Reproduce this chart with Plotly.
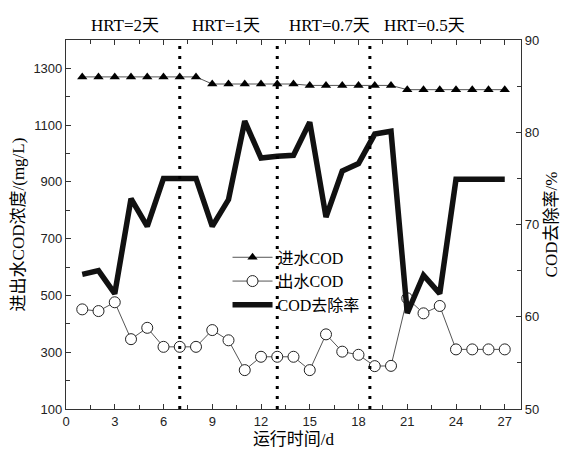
import plotly.graph_objects as go

days = list(range(1, 28))
influent_cod = [1270, 1270, 1270, 1270, 1270, 1270, 1270, 1270,
                1245, 1245, 1245, 1245, 1245, 1245,
                1240, 1240, 1240, 1240, 1240, 1240,
                1225, 1225, 1225, 1225, 1225, 1225, 1225]
effluent_cod = [451, 445, 476, 346, 386, 319, 319, 319, 378, 342, 237, 284, 284, 284,
                237, 363, 302, 291, 251, 252, 490, 437, 463, 310, 310, 310, 310]
removal_rate = [64.6, 65.0, 62.5, 72.8, 69.8, 75.0, 75.0, 75.0, 69.8, 72.7, 81.2, 77.2, 77.4, 77.5,
                81.1, 70.8, 75.8, 76.6, 79.8, 80.1, 60.4, 64.5, 62.5, 74.9, 74.9, 74.9, 74.9]

hrt_boundaries = [7, 13, 18.7]
hrt_labels = ["HRT=2天", "HRT=1天", "HRT=0.7天", "HRT=0.5天"]
hrt_label_x = [3.65, 9.85, 16.2, 22.05]

serif = "Liberation Serif, Noto Sans CJK SC, serif"
sans = "Liberation Sans, Arial, sans-serif"

fig = go.Figure()
fig.add_trace(go.Scatter(
    x=days, y=influent_cod, name="进水COD", mode="lines+markers",
    line=dict(color="#555555", width=1),
    marker=dict(symbol="triangle-up", size=9, color="black"),
))
fig.add_trace(go.Scatter(
    x=days, y=effluent_cod, name="出水COD", mode="lines+markers",
    line=dict(color="#555555", width=1),
    marker=dict(symbol="circle", size=11, color="white", line=dict(color="#222222", width=1)),
))
fig.add_trace(go.Scatter(
    x=days, y=removal_rate, name="COD去除率", mode="lines", yaxis="y2",
    line=dict(color="#111111", width=5.5),
))

for xb in hrt_boundaries:
    fig.add_shape(type="line", xref="x", yref="paper", x0=xb, x1=xb, y0=0, y1=1,
                  line=dict(color="black", width=3, dash="3px,7px"), layer="above")

for lab, lx in zip(hrt_labels, hrt_label_x):
    fig.add_annotation(x=lx, y=1.0, xref="x", yref="paper", yshift=15, text=lab,
                       showarrow=False, font=dict(family=serif, size=17, color="black"),
                       xanchor="center", yanchor="middle")

fig.update_layout(
    width=568, height=450,
    margin=dict(l=66, r=47, t=40, b=41, autoexpand=False),
    paper_bgcolor="white", plot_bgcolor="white",
    showlegend=True,
    legend=dict(x=0.355, y=0.457, xanchor="left", yanchor="top",
                bgcolor="rgba(0,0,0,0)", borderwidth=0,
                font=dict(family=serif, size=16, color="black"),
                itemwidth=40, tracegroupgap=0),
    xaxis=dict(range=[0, 28], tick0=0, dtick=3, ticks="inside", ticklen=5,
               tickcolor="#333", showline=True, linecolor="#333", linewidth=1.2,
               mirror="ticks", showgrid=False, zeroline=False, automargin=False,
               tickfont=dict(family=sans, size=13, color="#222"),
               minor=dict(dtick=1.5, ticks="inside", ticklen=4, tickcolor="#333"),
               title=dict(text="运行时间/d", font=dict(family=serif, size=17, color="black"),
                          standoff=5)),
    yaxis=dict(range=[100, 1400], tick0=100, dtick=200, ticks="inside", ticklen=5,
               tickcolor="#333", showline=True, linecolor="#333", linewidth=1.2,
               mirror=True, showgrid=False, zeroline=False, automargin=False,
               tickfont=dict(family=sans, size=13, color="#222"),
               minor=dict(dtick=100, ticks="inside", ticklen=4, tickcolor="#333"),
               title=dict(text="进出水COD浓度/(mg/L)", font=dict(family=serif, size=17, color="black"),
                          standoff=4)),
    yaxis2=dict(range=[50, 90], tick0=50, dtick=10, overlaying="y", side="right",
                ticks="inside", ticklen=5, tickcolor="#333", showline=True,
                linecolor="#333", linewidth=1.2, showgrid=False, zeroline=False,
                automargin=False,
                tickfont=dict(family=sans, size=13, color="#222"),
                minor=dict(dtick=5, ticks="inside", ticklen=4, tickcolor="#333"),
                title=dict(text="COD去除率/%", font=dict(family=serif, size=17, color="black"),
                           standoff=6)),
)

fig.write_html("out.html")
